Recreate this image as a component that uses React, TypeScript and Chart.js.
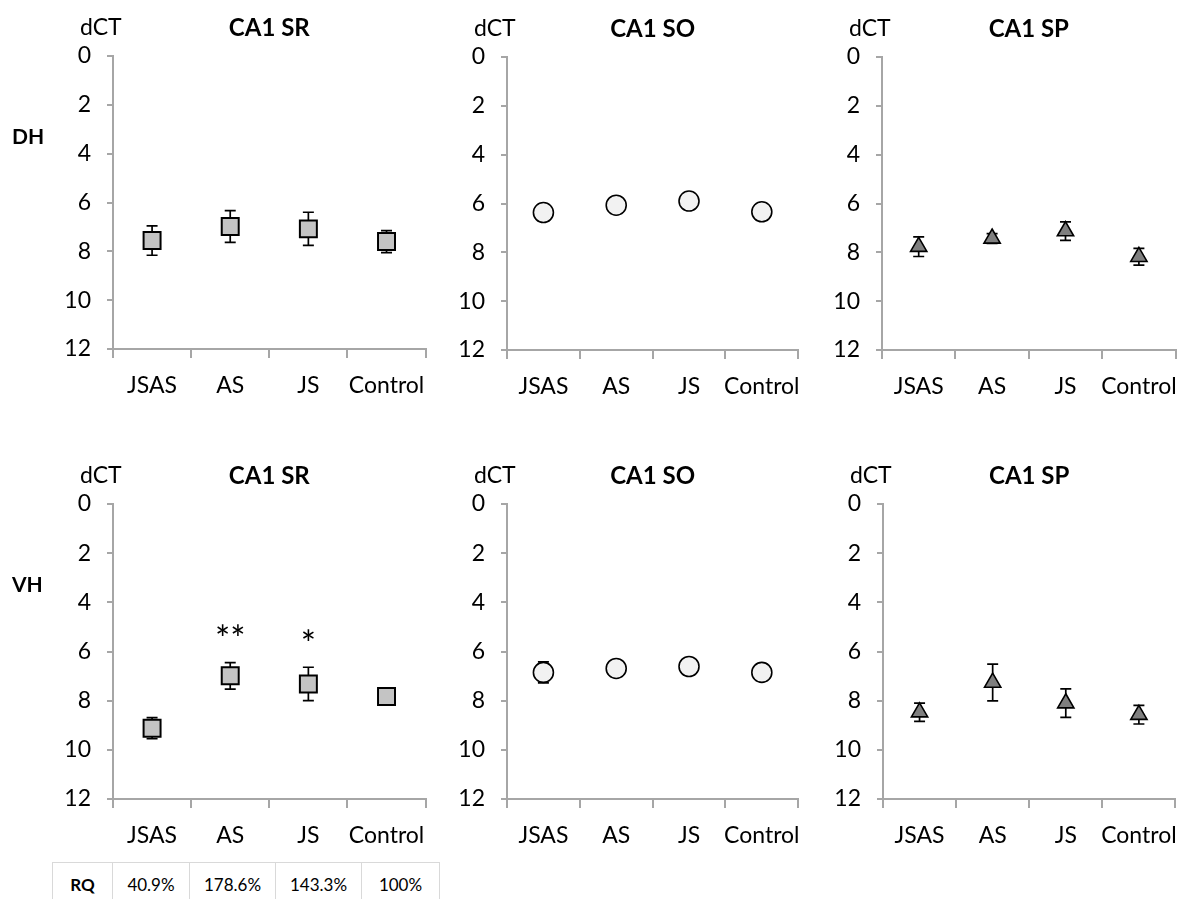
import React, { useEffect, useRef } from "react";
import { Chart, registerables } from "chart.js";

Chart.register(...registerables);

// ---------- data ----------
const categories = ["JSAS", "AS", "JS", "Control"];
const yTicks = [0, 2, 4, 6, 8, 10, 12];

const dhSrMean = [7.56, 6.98, 7.08, 7.6];
const dhSrErr = [0.6, 0.65, 0.68, 0.45];
const dhSoMean = [6.37, 6.07, 5.9, 6.34];
const dhSoErr = [0.1, 0.08, 0.08, 0.1];
const dhSpMean = [7.77, 7.43, 7.13, 8.18];
const dhSpErr = [0.4, 0.2, 0.38, 0.34];

const vhSrMean = [9.12, 6.99, 7.32, 7.83];
const vhSrErr = [0.43, 0.54, 0.68, 0.05];
const vhSrSig = ["", "**", "*", ""];
const vhSoMean = [6.85, 6.69, 6.61, 6.85];
const vhSoErr = [0.43, 0.08, 0.08, 0.08];
const vhSpMean = [8.47, 7.26, 8.1, 8.57];
const vhSpErr = [0.37, 0.75, 0.58, 0.38];

const rqHeader = "RQ";
const rqValues = ["40.9%", "178.6%", "143.3%", "100%"];
const rowLabels = ["DH", "VH"];

// ---------- styles ----------
const FONT = "Lato";
const AXIS = "#a6a6a6";

type PanelDef = {
  title: string;
  mean: number[];
  err: number[];
  sig?: string[];
  style: "rect" | "circle" | "triangle";
  fill: string;
  radius: number;
  bw: number;
  canvas: [number, number, number, number]; // x, y, w, h
  plot: [number, number, number, number]; // left, right, top, bottom
};

const SQ = { style: "rect" as const, fill: "#c4c4c4", radius: 12, bw: 2 };
const CI = { style: "circle" as const, fill: "#f2f2f2", radius: 10, bw: 1.6 };
const TR = { style: "triangle" as const, fill: "#7f7f7f", radius: 9.4, bw: 1.6 };

const panels: PanelDef[] = [
  { title: "CA1 SR", mean: dhSrMean, err: dhSrErr, ...SQ, canvas: [40, 0, 400, 420], plot: [113, 435, 56, 349] },
  { title: "CA1 SO", mean: dhSoMean, err: dhSoErr, ...CI, canvas: [440, 0, 375, 420], plot: [507, 811, 57, 350] },
  { title: "CA1 SP", mean: dhSpMean, err: dhSpErr, ...TR, canvas: [815, 0, 377, 420], plot: [882, 1188, 57, 350] },
  { title: "CA1 SR", mean: vhSrMean, err: vhSrErr, sig: vhSrSig, ...SQ, canvas: [40, 430, 400, 420], plot: [113, 432, 504, 799] },
  { title: "CA1 SO", mean: vhSoMean, err: vhSoErr, ...CI, canvas: [440, 430, 375, 420], plot: [507, 809, 504, 799] },
  { title: "CA1 SP", mean: vhSpMean, err: vhSpErr, ...TR, canvas: [815, 430, 377, 420], plot: [883, 1188, 504, 799] },
];

function Panel({ def }: { def: PanelDef }) {
  const ref = useRef<HTMLCanvasElement | null>(null);
  useEffect(() => {
    if (!ref.current) return;
    const [cx, cy, cw, ch] = def.canvas;
    const [L, R, T, B] = def.plot;
    const yw = L - cx;
    const xh = cy + ch - B;

    const errorBars = {
      id: "errorBars",
      beforeDatasetsDraw(chart: any) {
        const { ctx } = chart;
        const xs = chart.scales.x;
        const ys = chart.scales.y;
        ctx.save();
        ctx.strokeStyle = "#000";
        ctx.lineWidth = 1.7;
        def.mean.forEach((m, i) => {
          const e = def.err[i];
          const px = xs.getPixelForValue(i);
          const t = ys.getPixelForValue(m - e);
          const b = ys.getPixelForValue(m + e);
          ctx.beginPath();
          ctx.moveTo(px, t);
          ctx.lineTo(px, b);
          ctx.moveTo(px - 5.5, t);
          ctx.lineTo(px + 5.5, t);
          ctx.moveTo(px - 5.5, b);
          ctx.lineTo(px + 5.5, b);
          ctx.stroke();
        });
        ctx.restore();
      },
      afterDraw(chart: any) {
        const { ctx, chartArea } = chart;
        ctx.save();
        ctx.fillStyle = "#000";
        ctx.textBaseline = "middle";
        ctx.font = `23px ${FONT}`;
        ctx.textAlign = "left";
        ctx.fillText("dCT", chartArea.left - 33, chartArea.top - 28);
        ctx.font = `bold 24px ${FONT}`;
        ctx.textAlign = "center";
        ctx.fillText(def.title, (chartArea.left + chartArea.right) / 2, chartArea.top - 28);
        if (def.sig) {
          const xs = chart.scales.x;
          const ys = chart.scales.y;
          ctx.font = `36px ${FONT}`;
          def.sig.forEach((s, i) => {
            if (!s) return;
            const px = xs.getPixelForValue(i);
            const t = ys.getPixelForValue(def.mean[i] - def.err[i]);
            ctx.fillText(s, px, t - 22);
          });
        }
        ctx.restore();
      },
    };

    const chart = new Chart(ref.current, {
      type: "line",
      data: {
        labels: categories,
        datasets: [
          {
            data: def.mean,
            showLine: false,
            pointStyle: def.style,
            pointRadius: def.radius,
            pointHoverRadius: def.radius,
            pointBackgroundColor: def.fill,
            pointBorderColor: "#000",
            pointBorderWidth: def.bw,
            pointHoverBorderWidth: def.bw,
          } as any,
        ],
      },
      options: {
        animation: false,
        responsive: false,
        events: [],
        layout: { padding: { left: 0, top: T - cy, right: cx + cw - R, bottom: 0 } },
        plugins: {
          legend: { display: false },
          tooltip: { enabled: false },
          title: { display: false },
        },
        scales: {
          x: {
            type: "category",
            offset: true,
            grid: {
              offset: true,
              drawOnChartArea: false,
              drawTicks: true,
              tickLength: 9,
              color: AXIS,
              lineWidth: 2,
            },
            border: { display: true, color: AXIS, width: 2 },
            ticks: {
              color: "#000",
              font: { family: FONT, size: 23 },
              padding: 14,
              maxRotation: 0,
              minRotation: 0,
              autoSkip: false,
            },
            afterFit: (s: any) => {
              s.height = xh;
            },
          },
          y: {
            type: "linear",
            reverse: true,
            min: 0,
            max: 12,
            afterBuildTicks: (s: any) => {
              s.ticks = yTicks.map((v) => ({ value: v }));
            },
            grid: {
              drawOnChartArea: false,
              drawTicks: true,
              tickLength: 6,
              color: AXIS,
              lineWidth: 2,
            },
            border: { display: true, color: AXIS, width: 2 },
            ticks: {
              color: "#000",
              font: { family: FONT, size: 23 },
              padding: 16,
            },
            afterFit: (s: any) => {
              s.width = yw;
            },
          },
        },
      } as any,
      plugins: [errorBars],
    });
    return () => chart.destroy();
  }, [def]);

  const [cx, cy, cw, ch] = def.canvas;
  return (
    <canvas
      ref={ref}
      width={cw}
      height={ch}
      style={{ position: "absolute", left: cx, top: cy, width: cw, height: ch }}
    />
  );
}

const rowLabelTops = [124, 572];
const rqColWidths = [59, 76, 85, 85, 77];

export default function App() {
  return (
    <div
      style={{
        position: "fixed",
        left: 0,
        top: 0,
        width: 1192,
        height: 899,
        overflow: "hidden",
        background: "#fff",
        fontFamily: FONT,
      }}
    >
      {panels.map((p, i) => (
        <Panel key={i} def={p} />
      ))}
      {rowLabels.map((r, i) => (
        <div
          key={r}
          style={{
            position: "absolute",
            left: 12,
            top: rowLabelTops[i],
            fontWeight: "bold",
            fontSize: 21,
            lineHeight: "24px",
            color: "#000",
          }}
        >
          {r}
        </div>
      ))}
      <table
        style={{
          position: "absolute",
          left: 52,
          top: 862,
          borderCollapse: "collapse",
          fontSize: 17,
          fontFamily: FONT,
          color: "#000",
        }}
      >
        <tbody>
          <tr>
            <td
              style={{
                width: rqColWidths[0],
                height: 43,
                padding: 0,
                border: "1px solid #d9d9d9",
                textAlign: "center",
                fontWeight: "bold",
              }}
            >
              {rqHeader}
            </td>
            {rqValues.map((v, i) => (
              <td
                key={i}
                style={{
                  width: rqColWidths[i + 1],
                  height: 43,
                  padding: 0,
                  border: "1px solid #d9d9d9",
                  textAlign: "center",
                }}
              >
                {v}
              </td>
            ))}
          </tr>
        </tbody>
      </table>
    </div>
  );
}
